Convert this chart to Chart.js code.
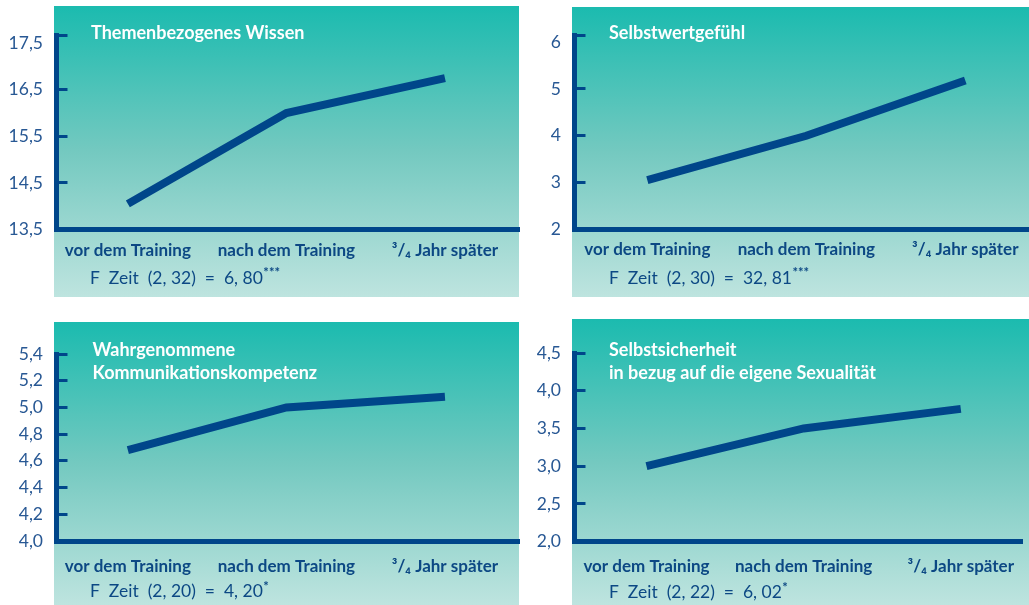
<!DOCTYPE html>
<html lang="de">
<head>
<meta charset="utf-8">
<title>Ergebnisse Training</title>
<script src="https://cdn.jsdelivr.net/npm/chart.js@4.4.1/dist/chart.umd.min.js"></script>
<style>
  html, body { margin: 0; padding: 0; background: #ffffff; }
  body { width: 1029px; height: 605px; position: relative; overflow: hidden; }
  canvas { position: absolute; display: block; }
</style>
</head>
<body>
<canvas id="c1" width="520" height="300" style="left:0;top:0"></canvas>
<canvas id="c2" width="509" height="300" style="left:520px;top:0"></canvas>
<canvas id="c3" width="520" height="305" style="left:0;top:300px"></canvas>
<canvas id="c4" width="509" height="305" style="left:520px;top:300px"></canvas>
<script>
// Messzeitpunkte
const categories = ['vor dem Training', 'nach dem Training', '³/₄ Jahr später'];

// Mittelwerte je Skala
const wissenValues = [14.05, 16.0, 16.75];
const selbstwertValues = [3.05, 4.0, 5.18];
const kommunikationValues = [4.68, 5.0, 5.08];
const sexualitaetValues = [3.0, 3.5, 3.76];

// Achsenbeschriftungen je Skala
const wissenTicks = [13.5, 14.5, 15.5, 16.5, 17.5];
const selbstwertTicks = [2, 3, 4, 5, 6];
const kommunikationTicks = [4.0, 4.2, 4.4, 4.6, 4.8, 5.0, 5.2, 5.4];
const sexualitaetTicks = [2.0, 2.5, 3.0, 3.5, 4.0, 4.5];

// Überschriften und F-Werte
const wissenTitle = ['Themenbezogenes Wissen'];
const selbstwertTitle = ['Selbstwertgefühl'];
const kommunikationTitle = ['Wahrgenommene', 'Kommunikationskompetenz'];
const sexualitaetTitle = ['Selbstsicherheit', 'in bezug auf die eigene Sexualität'];

const wissenStat = ['F  Zeit  (2, 32)  =  6, 80', '***'];
const selbstwertStat = ['F  Zeit  (2, 30)  =  32, 81', '***'];
const kommunikationStat = ['F  Zeit  (2, 20)  =  4, 20', '*'];
const sexualitaetStat = ['F  Zeit  (2, 22)  =  6, 02', '*'];

const BLUE = '#00468a';
const LABEL_BLUE = '#0c4884';
const TICK_BLUE = '#285894';
const FONT = 'Lato, "Open Sans", sans-serif';

// Teal panel behind each diagram, plus its headline and F statistic
const panelPlugin = {
  id: 'panel',
  beforeDraw(chart, args, opts) {
    const ctx = chart.ctx;
    const p = opts.rect;
    const g = ctx.createLinearGradient(0, p.y, 0, p.y + p.h);
    g.addColorStop(0, '#1bbbaf');
    g.addColorStop(0.5, '#74c9c0');
    g.addColorStop(1, '#bee4df');
    ctx.save();
    ctx.fillStyle = g;
    ctx.fillRect(p.x, p.y, p.w, p.h);
    ctx.restore();
  },
  afterDraw(chart, args, opts) {
    const ctx = chart.ctx;
    ctx.save();
    ctx.textBaseline = 'middle';
    ctx.textAlign = 'left';
    ctx.fillStyle = '#ffffff';
    ctx.font = 'bold 18px ' + FONT;
    opts.title.forEach((line, i) => {
      ctx.fillText(line, opts.titleX, opts.titleY + i * 22.7);
    });
    ctx.fillStyle = LABEL_BLUE;
    ctx.font = '17.5px ' + FONT;
    ctx.fillText(opts.stat[0], opts.statX, opts.statY);
    const w = ctx.measureText(opts.stat[0]).width;
    ctx.font = 'bold 13px ' + FONT;
    ctx.fillText(opts.stat[1], opts.statX + w + 0.5, opts.statY - 5);
    ctx.restore();
  }
};

function fmt(v, dec) {
  return v.toFixed(dec).replace('.', ',');
}

function makeChart(id, cfg) {
  const canvas = document.getElementById(id);
  const W = canvas.width, H = canvas.height;
  const lastTick = cfg.ticks[cfg.ticks.length - 1];
  const extended = cfg.yMax > lastTick + 1e-6;
  return new Chart(canvas, {
    type: 'line',
    data: {
      datasets: [{
        data: cfg.values.map((v, i) => ({ x: i, y: v })),
        borderColor: BLUE,
        borderWidth: 8,
        borderCapStyle: 'butt',
        borderJoinStyle: 'miter',
        tension: 0,
        pointRadius: 0,
        fill: false
      }]
    },
    options: {
      responsive: false,
      animation: false,
      events: [],
      layout: { padding: { left: 0, top: cfg.axisTop, right: W - cfg.panel.x - cfg.panel.w, bottom: 0 } },
      plugins: {
        legend: { display: false },
        tooltip: { enabled: false },
        title: { display: false },
        panel: {
          rect: cfg.panel,
          title: cfg.title, titleX: cfg.titleX, titleY: cfg.titleY,
          stat: cfg.stat, statX: cfg.statX, statY: cfg.statY
        }
      },
      scales: {
        x: {
          type: 'linear',
          min: cfg.xMin,
          max: cfg.xMax,
          afterBuildTicks(scale) {
            scale.ticks = categories.map((c, i) => ({ value: i }));
          },
          afterFit(scale) { scale.height = H - cfg.axisBottom; },
          grid: { display: false, drawTicks: false },
          border: { display: true, color: BLUE, width: 5 },
          ticks: {
            autoSkip: false,
            maxRotation: 0,
            padding: cfg.xPad,
            color: LABEL_BLUE,
            font: { family: FONT, size: 17, weight: 'bold' },
            callback: (v) => categories[Math.round(v)]
          }
        },
        y: {
          type: 'linear',
          min: cfg.yMin,
          max: cfg.yMax,
          afterBuildTicks(scale) {
            const t = cfg.ticks.map(v => ({ value: v }));
            if (extended) t.push({ value: cfg.yMax });
            scale.ticks = t;
          },
          afterFit(scale) { scale.width = cfg.axisX; },
          border: { display: true, color: BLUE, width: 5 },
          grid: {
            display: true,
            drawOnChartArea: false,
            drawTicks: true,
            tickLength: -11,
            tickWidth: 3,
            tickColor: (c) => (extended && c.tick && Math.abs(c.tick.value - lastTick) < 1e-6) ? 'rgba(0,0,0,0)' : BLUE
          },
          ticks: {
            autoSkip: false,
            padding: 24.5,
            color: TICK_BLUE,
            font: { family: FONT, size: 17.5 },
            callback: (v) => (extended && Math.abs(v - cfg.yMax) < 1e-6) ? '' : fmt(v, cfg.dec)
          }
        }
      }
    },
    plugins: [panelPlugin]
  });
}

makeChart('c1', {
  values: wissenValues, ticks: wissenTicks, dec: 1,
  yMin: 13.5, yMax: 17.675, xMin: -0.45, xMax: 2.467,
  panel: { x: 54, y: 6, w: 465, h: 291 },
  axisX: 56.5, axisTop: 32, axisBottom: 229.5, xPad: 10.5,
  title: wissenTitle, titleX: 91, titleY: 33,
  stat: wissenStat, statX: 90, statY: 278
});

makeChart('c2', {
  values: selbstwertValues, ticks: selbstwertTicks, dec: 0,
  yMin: 2, yMax: 6.154, xMin: -0.458, xMax: 2.395,
  panel: { x: 52, y: 7, w: 457, h: 290 },
  axisX: 54.5, axisTop: 32, axisBottom: 229.3, xPad: 10.5,
  title: selbstwertTitle, titleX: 89, titleY: 33,
  stat: selbstwertStat, statX: 89, statY: 278.3
});

makeChart('c3', {
  values: kommunikationValues, ticks: kommunikationTicks, dec: 1,
  yMin: 4.0, yMax: 5.4, xMin: -0.45, xMax: 2.467,
  panel: { x: 54, y: 22, w: 465, h: 283 },
  axisX: 56.5, axisTop: 54, axisBottom: 241, xPad: 15,
  title: kommunikationTitle, titleX: 92.5, titleY: 50,
  stat: kommunikationStat, statX: 90, statY: 291.7
});

makeChart('c4', {
  values: sexualitaetValues, ticks: sexualitaetTicks, dec: 1,
  yMin: 2.0, yMax: 4.5, xMin: -0.458, xMax: 2.395,
  panel: { x: 52, y: 19, w: 457, h: 286 },
  axisX: 54.5, axisTop: 53, axisBottom: 241.7, xPad: 15,
  title: sexualitaetTitle, titleX: 89, titleY: 50,
  stat: sexualitaetStat, statX: 89, statY: 292.7
});
</script>
</body>
</html>
